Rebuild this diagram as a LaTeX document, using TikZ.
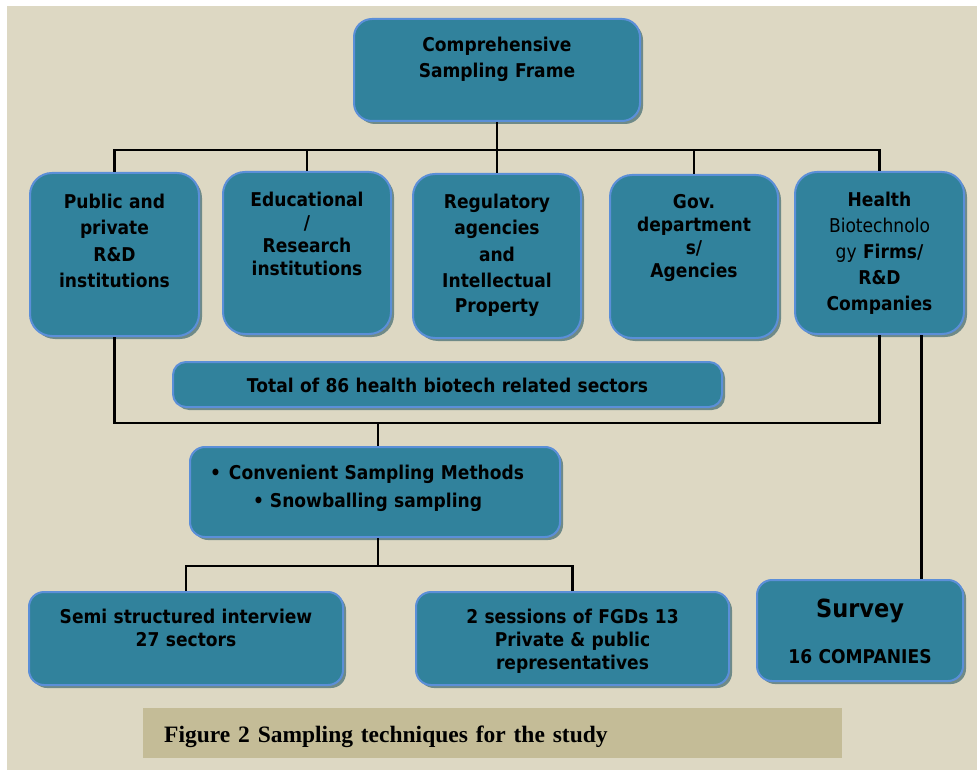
\documentclass[tikz,border=0pt]{standalone}
\usepackage{fontspec}
\usetikzlibrary{shadows}
\setmainfont{Liberation Serif}
\newfontfamily\labelfont[FakeStretch=0.9]{DejaVu Sans}

\definecolor{paper}{HTML}{DDD8C3}
\definecolor{boxfill}{HTML}{31829C}
\definecolor{boxline}{HTML}{5B8FD8}
\definecolor{boxshade}{HTML}{6E8A88}
\definecolor{captionfill}{HTML}{C4BC97}

\tikzset{
  box/.style={draw=boxline, line width=2pt, fill=boxfill, rounded corners=22pt,
    anchor=north, align=center, inner xsep=4pt, inner ysep=0pt,
    font=\labelfont\bfseries\fontsize{19}{26}\selectfont,
    drop shadow={shadow xshift=3pt, shadow yshift=-3pt, fill=boxshade, opacity=1}},
  tight/.style={font=\labelfont\bfseries\fontsize{19}{23}\selectfont},
  link/.style={line width=2.7pt}
}

\begin{document}
\begin{tikzpicture}[x=1pt,y=-1pt]
\useasboundingbox (0,0) rectangle (977,770);
\fill[white] (0,0) rectangle (977,770);
\fill[paper] (7,6) rectangle (977,770);

% top of the tree
\node[box, rounded corners=18pt, text width=278pt, text height=33pt, text depth=69pt] (frame) at (497,18)
  {Comprehensive\\Sampling Frame};

% the five sectors
\node[box, text width=161pt, text height=36pt, text depth=127pt] (pub) at (114.5,172)
  {Public and\\private\\R\&D\\institutions};
\node[box, tight, text width=160pt, text height=35pt, text depth=127pt] (edu) at (307,171)
  {Educational\\/\\Research\\institutions};
\node[box, text width=160pt, text height=35pt, text depth=129pt] (reg) at (497,173)
  {Regulatory\\agencies\\and\\Intellectual\\Property};
\node[box, tight, text width=160pt, text height=34pt, text depth=129pt] (gov) at (694,174)
  {Gov.\\department\\s/\\Agencies};
\node[box, text width=161pt, text height=35pt, text depth=127pt] (health) at (879.5,171)
  {Health\\{\mdseries Biotechnolo}\\{\mdseries gy} Firms/\\R\&D\\Companies};

\node[box, rounded corners=13pt, text width=541pt, text height=30pt, text depth=15pt] (total) at (447.5,361)
  {Total of 86 health biotech related sectors};

\node[box, rounded corners=15pt, align=left, text width=362pt, text height=32pt, text depth=58pt,
  font=\labelfont\bfseries\fontsize{19}{28}\selectfont] (methods) at (375,446)
  {\hspace*{16pt}\makebox[19pt][l]{\textbullet}Convenient Sampling Methods\\
   \hspace*{59pt}\makebox[17pt][l]{\textbullet}Snowballing sampling};

% methods used
\node[box, tight, rounded corners=15pt, text width=306pt, text height=31pt, text depth=62pt] (semi) at (186,591)
  {Semi structured interview\\27 sectors};
\node[box, tight, rounded corners=15pt, text width=305pt, text height=31pt, text depth=62pt] (fgd) at (572.5,591)
  {2 sessions of FGDs 13\\Private \& public\\representatives};
\node[box, tight, rounded corners=15pt, text width=198pt, text height=37pt, text depth=64pt] (survey) at (860,579)
  {{\fontsize{25}{30}\selectfont Survey}\\[23pt]16 COMPANIES};

\node[anchor=north west, fill=captionfill, align=left, text width=657pt, inner xsep=21pt, inner ysep=0pt,
  text height=34pt, text depth=16pt, font=\bfseries\fontsize{23.5}{28}\selectfont] (caption) at (143,708)
  {Figure 2 Sampling techniques for the study};

% connectors
\coordinate (bus) at (497,150);
\coordinate (join) at (378,423);
\coordinate (split) at (378,566);
\draw[link] (frame.south) -- (bus);
\foreach \b in {pub,edu,reg,gov,health}
  \draw[link] (\b.north) |- (bus);
\draw[link] (pub.south) |- (join);
\draw[link] (health.south) |- (join);
\draw[link] (join) -- (join |- methods.north);
\draw[link] (split |- methods.south) -- (split);
\draw[link] (semi.north) |- (split);
\draw[link] (fgd.north) |- (split);
\draw[link] ([xshift=42pt]health.south) -- ([xshift=42pt]health.south |- survey.north);
\end{tikzpicture}
\end{document}
